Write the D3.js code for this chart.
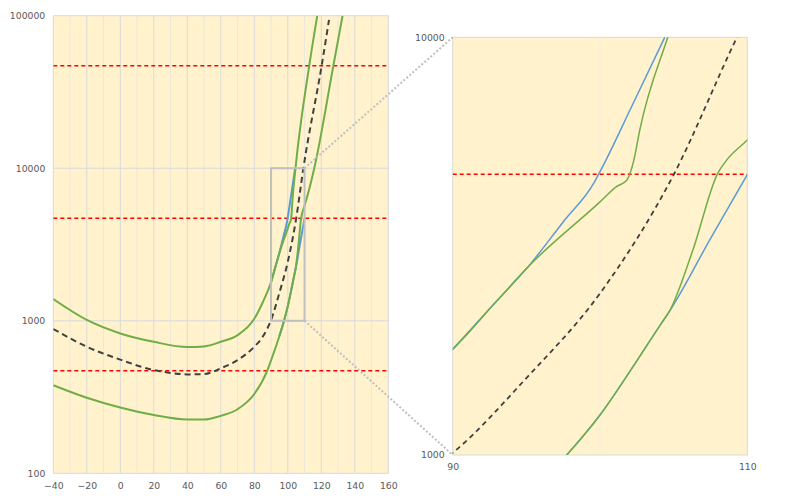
<!DOCTYPE html>
<html><head><meta charset="utf-8">
<script src="https://cdn.jsdelivr.net/npm/d3@7"></script>
<style>
html,body{margin:0;padding:0;background:#fff;}
svg text{font-family:"DejaVu Sans",Verdana,sans-serif;font-size:9.3px;fill:#595959;}
</style></head>
<body>
<svg id="c" width="800" height="500"></svg>
<script>
// ---- data (temperature, value) ----
const greenHiT = [-40,-20,0,20,40,50,60,70,80,85,90,93,95.13,100,101.1,101.8,102.3,102.7,104.6,112.8,117.6];
const greenHiV = [1387,1012,826,728,673,679,728,805,1030,1318,1791,2339,2825,4036,4385,4539,5082,5998,10000,46990,100000];
const typT = [-40,-20,0,20,30,40,50,60,70,80,85,90,95,100,105,109.3,120.2,124.6];
const typV = [883,676,556,475,455,445,447,488,552,676,785,1012,1528,2438,4688,10000,47000,93800];
const greenLoT = [-40,-20,0,20,40,50,60,70,80,87.7,90,95,97.74,100,102.4,104.2,104.7,106.3,108.0,108.6,110,115.8,127.2,132.7];
const greenLoV = [378,313,270,241,225,225,238,263,331,470,550,794,1000,1247,1660,2075,2203,3090,4732,5082,5675,10000,46990,100000];
const blueHiT = [90,93,95.13,97.5,99.6,100.1,102.2,104.4];
const blueHiV = [1791,2339,2825,3614,4487,4842,6887,10000];
const blueLoT = [95,97.74,100,102.4,104.2,104.7,107.5,110];
const blueLoV = [794,1000,1247,1660,2075,2203,3296,4688];
const limitV = [470,4700,47000];
const leftXTicks = [-40,-20,0,20,40,60,80,100,120,140,160];
const leftXMinor = [-30,-10,10,30,50,70,90,110,130,150];
const leftYTicks = [100,1000,10000,100000];
const rightXTicks = [90,110];
const rightYTicks = [1000,10000];
const zoomX = [90,110], zoomY = [1000,10000];

const zip = (t,v)=>t.map((x,i)=>[x,v[i]]);
const series = [
  {d:zip(blueHiT,blueHiV), c:"#5B9BD5", dash:null},
  {d:zip(blueLoT,blueLoV), c:"#5B9BD5", dash:null},
  {d:zip(greenHiT,greenHiV), c:"#70AD47", dash:null},
  {d:zip(greenLoT,greenLoV), c:"#70AD47", dash:null},
  {d:zip(typT,typV), c:"#404040", dash:"typ"}
];

const svg = d3.select("#c");
const defs = svg.append("defs");

function panel(id, x, y, opt){
  const [x0,x1] = x.range(), [y0,y1] = y.range(); // y0 bottom
  defs.append("clipPath").attr("id",id).append("rect")
    .attr("x",x0).attr("y",y1).attr("width",x1-x0).attr("height",y0-y1);
  const g = svg.append("g");
  g.append("rect").attr("x",x0).attr("y",y1).attr("width",x1-x0).attr("height",y0-y1).attr("fill","#FFF2CC");
  g.selectAll(".mn").data(opt.minorX).join("line")
    .attr("x1",d=>x(d)).attr("x2",d=>x(d)).attr("y1",y1).attr("y2",y0)
    .attr("stroke",opt.minorColor).attr("stroke-width",1);
  g.selectAll(".mj").data(opt.majorX).join("line")
    .attr("x1",d=>x(d)).attr("x2",d=>x(d)).attr("y1",y1).attr("y2",y0)
    .attr("stroke",opt.majorColor).attr("stroke-width",1);
  g.selectAll(".hy").data(opt.majorY).join("line")
    .attr("x1",x0).attr("x2",x1).attr("y1",d=>y(d)).attr("y2",d=>y(d))
    .attr("stroke",opt.majorColor).attr("stroke-width",1);
  if(opt.border){
    g.append("rect").attr("x",x0).attr("y",y1).attr("width",x1-x0).attr("height",y0-y1)
      .attr("fill","none").attr("stroke","#D9D9D9").attr("stroke-width",1);
  }
  const pg = g.append("g").attr("clip-path",`url(#${id})`);
  pg.selectAll(".lim").data(limitV).join("line")
    .attr("x1",x0).attr("x2",x1).attr("y1",d=>y(d)).attr("y2",d=>y(d))
    .attr("stroke","#FF0000").attr("stroke-width",1.5).attr("stroke-dasharray","4,3");
  const line = d3.line().x(d=>x(d[0])).y(d=>y(d[1])).curve(d3.curveMonotoneX);
  series.forEach(s=>{
    pg.append("path").attr("d",line(s.d)).attr("fill","none")
      .attr("stroke",s.c).attr("stroke-width",s.dash?opt.dashW:opt.lineW)
      .attr("stroke-dasharray",s.dash?opt.dash:null)
      .attr("stroke-linejoin","round");
  });
  const ax = d3.axisBottom(x).tickValues(opt.labX).tickSize(0).tickPadding(opt.padX).tickFormat(d3.format("d"));
  const gx = g.append("g").attr("transform",`translate(0,${y0})`).call(ax);
  gx.select(".domain").remove();
  const ay = d3.axisLeft(y).tickValues(opt.labY).tickSize(0).tickPadding(opt.padY).tickFormat(d3.format("d"));
  const gy = g.append("g").attr("transform",`translate(${x0},0)`).call(ay);
  gy.select(".domain").remove();
  [gx,gy].forEach(a=>{a.attr("font-family",null).attr("font-size",null); a.selectAll("text").attr("fill","#595959");});
  return g;
}

const xL = d3.scaleLinear().domain([-40,160]).range([53.3,388.3]);
const yL = d3.scaleLog().domain([100,100000]).range([473.3,15.7]);
const xR = d3.scaleLinear().domain([90,110]).range([452.7,747.3]);
const yR = d3.scaleLog().domain([1000,10000]).range([455,37.3]);

panel("clipL", xL, yL, {minorX:leftXMinor, majorX:leftXTicks, majorY:leftYTicks,
  minorColor:"#EDE8DA", majorColor:"#D9D9D9", border:false, lineW:2, dashW:2, dash:"6,4",
  labX:leftXTicks, labY:leftYTicks, padX:9, padY:8});
panel("clipR", xR, yR, {minorX:[], majorX:[100], majorY:[],
  minorColor:"#F2F2F2", majorColor:"#F3EEE6", border:true, lineW:1.5, dashW:1.8, dash:"5,4",
  labX:rightXTicks, labY:rightYTicks, padX:8, padY:8});

// zoom box and connectors
svg.append("rect").attr("x",xL(zoomX[0])).attr("y",yL(zoomY[1]))
  .attr("width",xL(zoomX[1])-xL(zoomX[0])).attr("height",yL(zoomY[0])-yL(zoomY[1]))
  .attr("fill","none").attr("stroke","#BFBFBF").attr("stroke-width",2);
[[zoomY[1],zoomY[1]],[zoomY[0],zoomY[0]]].forEach(([a,b])=>{
  svg.append("line").attr("x1",xL(zoomX[1])).attr("y1",yL(a))
    .attr("x2",xR(zoomX[0])).attr("y2",yR(b))
    .attr("stroke","#BFBFBF").attr("stroke-width",2).attr("stroke-dasharray","2,2");
});
</script>
</body></html>
